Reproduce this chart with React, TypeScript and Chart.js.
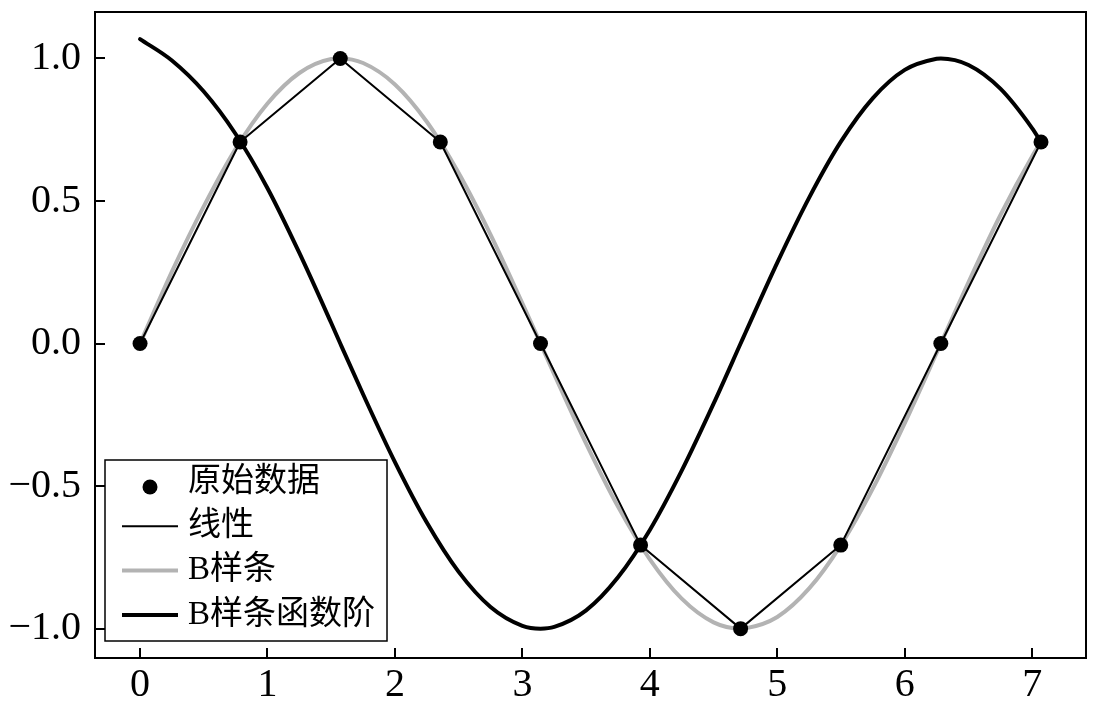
import { useEffect, useRef } from "react";
import { Chart, registerables } from "chart.js";

Chart.register(...registerables);

// Original samples: y = sin(x) taken every π/4
const sampleX = [0, 0.785, 1.571, 2.356, 3.142, 3.927, 4.712, 5.498, 6.283, 7.069];
const sampleY = [0, 0.707, 1.0, 0.707, 0.0, -0.707, -1.0, -0.707, 0.0, 0.707];

// Dense abscissa for the smooth curves (includes the turning points)
const curveX = [
  0, 0.25, 0.5, 0.75, 1.0, 1.25, 1.5, 1.571, 1.75, 2.0, 2.25, 2.5, 2.75, 3.0, 3.142,
  3.25, 3.5, 3.75, 4.0, 4.25, 4.5, 4.712, 4.75, 5.0, 5.25, 5.5, 5.75, 6.0, 6.25, 6.283,
  6.5, 6.75, 7.0, 7.069,
];

// B-spline through the samples
const splineY = [
  0.0, 0.252, 0.481, 0.683, 0.842, 0.949, 0.998, 1.0, 0.984, 0.909, 0.778, 0.598, 0.382,
  0.141, 0.0, -0.108, -0.351, -0.572, -0.757, -0.895, -0.978, -1.0, -0.999, -0.959,
  -0.859, -0.706, -0.508, -0.279, -0.033, 0.0, 0.215, 0.45, 0.657, 0.707,
];

// First-order derivative of the B-spline
const splineDerivY = [
  1.068, 0.993, 0.884, 0.735, 0.545, 0.318, 0.072, 0.0, -0.178, -0.416, -0.628, -0.801,
  -0.924, -0.99, -1.0, -0.994, -0.936, -0.82, -0.654, -0.446, -0.211, 0.0, 0.038, 0.284,
  0.512, 0.709, 0.861, 0.96, 0.999, 1.0, 0.977, 0.894, 0.755, 0.707,
];

const xTicks = [0, 1, 2, 3, 4, 5, 6, 7];
const yTicks = [-1.0, -0.5, 0.0, 0.5, 1.0];

const seriesLabels = ["原始数据", "线性", "B样条", "B样条函数阶"];

const X_MIN = -0.3534;
const X_MAX = 7.422;
const Y_MIN = -1.103;
const Y_MAX = 1.163;

const tickFont = { family: "'Liberation Serif', 'Times New Roman', serif", size: 40 };
const legendFont = "33px 'Liberation Serif', 'Noto Sans CJK SC', serif";

const toPoints = (xs: number[], ys: number[]) => xs.map((x, i) => ({ x, y: ys[i] }));

// Black frame around the plotting area
const framePlugin = {
  id: "frame",
  afterDatasetsDraw(chart: any) {
    const { ctx, chartArea } = chart;
    ctx.save();
    ctx.strokeStyle = "#000";
    ctx.lineWidth = 2;
    ctx.strokeRect(
      chartArea.left,
      chartArea.top,
      chartArea.right - chartArea.left,
      chartArea.bottom - chartArea.top
    );
    ctx.restore();
  },
};

// Boxed legend in the lower-left corner of the plotting area
const boxLegendPlugin = {
  id: "boxLegend",
  afterDraw(chart: any) {
    const { ctx, chartArea } = chart;
    const datasets = chart.data.datasets;
    ctx.save();
    ctx.font = legendFont;
    const textW = Math.max(...datasets.map((d: any) => ctx.measureText(d.label).width));
    const boxX = chartArea.left + 10;
    const boxH = 181;
    const boxY = chartArea.bottom - 17 - boxH;
    const textOffset = 83;
    const boxW = textOffset + textW + 12;

    ctx.fillStyle = "#fff";
    ctx.fillRect(boxX, boxY, boxW, boxH);
    ctx.strokeStyle = "#000";
    ctx.lineWidth = 1.5;
    ctx.strokeRect(boxX, boxY, boxW, boxH);

    const rowStart = 22;
    const rowGap = 44.3;
    datasets.forEach((d: any, i: number) => {
      const cy = boxY + rowStart + i * rowGap;
      const hx0 = boxX + 17;
      const hx1 = boxX + 73;
      if (d.showLine === false) {
        ctx.beginPath();
        ctx.fillStyle = d.backgroundColor;
        ctx.arc((hx0 + hx1) / 2, cy + 5, d.pointRadius, 0, Math.PI * 2);
        ctx.fill();
      } else {
        ctx.beginPath();
        ctx.strokeStyle = d.borderColor;
        ctx.lineWidth = d.borderWidth;
        ctx.moveTo(hx0, cy);
        ctx.lineTo(hx1, cy);
        ctx.stroke();
      }
      ctx.fillStyle = "#000";
      ctx.textAlign = "left";
      ctx.textBaseline = "middle";
      ctx.fillText(d.label, boxX + textOffset, cy);
    });
    ctx.restore();
  },
};

const fmt = (v: number) => v.toFixed(1).replace("-", "\u2212");

export default function App() {
  const canvasRef = useRef<HTMLCanvasElement | null>(null);

  useEffect(() => {
    if (!canvasRef.current) return;
    const chart = new Chart(canvasRef.current, {
      type: "scatter",
      data: {
        datasets: [
          {
            label: seriesLabels[0],
            data: toPoints(sampleX, sampleY),
            showLine: false,
            pointRadius: 7.5,
            pointHoverRadius: 7.5,
            backgroundColor: "#000",
            borderColor: "#000",
            borderWidth: 0,
            order: 0,
          },
          {
            label: seriesLabels[1],
            data: toPoints(sampleX, sampleY),
            showLine: true,
            pointRadius: 0,
            borderColor: "#000",
            backgroundColor: "#000",
            borderWidth: 2,
            borderJoinStyle: "round",
            tension: 0,
            order: 2,
          },
          {
            label: seriesLabels[2],
            data: toPoints(curveX, splineY),
            showLine: true,
            pointRadius: 0,
            borderColor: "#b3b3b3",
            backgroundColor: "#b3b3b3",
            borderWidth: 4,
            cubicInterpolationMode: "monotone",
            order: 3,
          },
          {
            label: seriesLabels[3],
            data: toPoints(curveX, splineDerivY),
            showLine: true,
            pointRadius: 0,
            borderColor: "#000",
            backgroundColor: "#000",
            borderWidth: 4,
            borderCapStyle: "round",
            cubicInterpolationMode: "monotone",
            order: 1,
          },
        ] as any,
      },
      options: {
        animation: false,
        responsive: false,
        maintainAspectRatio: false,
        devicePixelRatio: 1,
        layout: { padding: { left: 0, top: 12, right: 14, bottom: 0 } },
        plugins: {
          legend: { display: false },
          tooltip: { enabled: false },
        },
        scales: {
          x: {
            type: "linear",
            position: "bottom",
            min: X_MIN,
            max: X_MAX,
            afterBuildTicks: (s: any) => {
              s.ticks = xTicks.map((v) => ({ value: v }));
            },
            afterFit: (s: any) => {
              s.height = 48;
              s.paddingLeft = 0;
              s.paddingRight = 0;
            },
            ticks: {
              color: "#000",
              font: tickFont,
              padding: 13,
              maxRotation: 0,
              autoSkip: false,
              callback: (v: any) => String(v),
            },
            grid: {
              drawOnChartArea: false,
              drawTicks: true,
              tickLength: -10,
              color: "#000",
              lineWidth: 2,
            },
            border: { display: true, color: "#000", width: 2 },
          },
          y: {
            type: "linear",
            position: "left",
            min: Y_MIN,
            max: Y_MAX,
            afterBuildTicks: (s: any) => {
              s.ticks = yTicks.map((v) => ({ value: v }));
            },
            afterFit: (s: any) => {
              s.width = 95;
              s.paddingTop = 0;
              s.paddingBottom = 0;
            },
            ticks: {
              color: "#000",
              font: tickFont,
              padding: 24,
              autoSkip: false,
              callback: (v: any) => fmt(Number(v)),
            },
            grid: {
              drawOnChartArea: false,
              drawTicks: true,
              tickLength: -10,
              color: "#000",
              lineWidth: 2,
            },
            border: { display: true, color: "#000", width: 2 },
          },
        },
      },
      plugins: [framePlugin, boxLegendPlugin],
    } as any);
    return () => chart.destroy();
  }, []);

  return (
    <div style={{ position: "fixed", left: 0, top: 0, width: 1100, height: 706, background: "#fff" }}>
      <canvas ref={canvasRef} width={1100} height={706} style={{ display: "block" }} />
    </div>
  );
}
